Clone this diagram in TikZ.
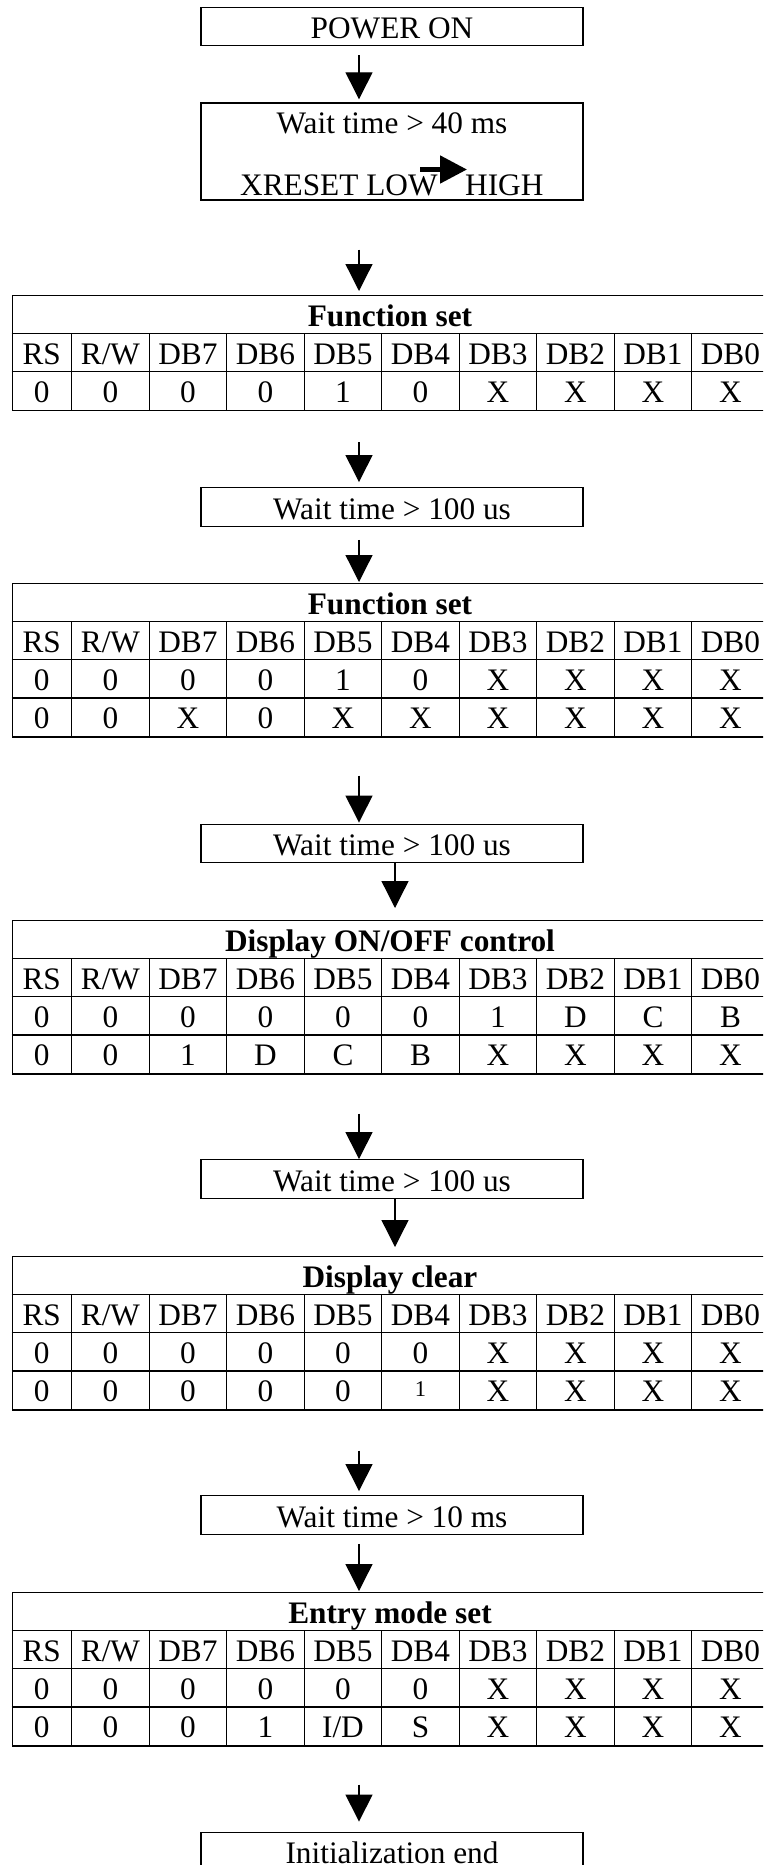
\documentclass[tikz,border=0pt]{standalone}
\usepackage{fontspec}
\setmainfont{Liberation Serif}
\usetikzlibrary{arrows.meta}

\newcommand{\smallone}{\raisebox{5.5pt}{\fontsize{22.5}{26}\selectfont 1}}

% register table: name, top, title, number of data rows, data rows
\newcommand{\bittable}[5]{%
  \pgfmathsetmacro{\tabh}{(2+#4)*38.3}
  \pgfmathtruncatemacro{\tabrows}{#4+1}
  \node[regtab, minimum height=\tabh pt] (#1) at (11.7,#2) {};
  \node[tabtitle] (#1-t) at (390,#2+31) {#3};
  \foreach \k in {1,...,\tabrows}
    \draw[gridline] (11.7,{#2+38.3*\k}) -- (768.7,{#2+38.3*\k});
  \foreach \k in {1,...,9}
    \draw[gridline] ({71.7+77.5*(\k-1)},{#2+38.3}) -- ({71.7+77.5*(\k-1)},{#2+\tabh});
  \foreach \h [count=\j] in {RS,R/W,DB7,DB6,DB5,DB4,DB3,DB2,DB1,DB0} {
    \pgfmathsetmacro{\cx}{\j==1 ? 41.7 : 71.7+77.5*(\j-1.5)}
    \node[cell] (#1-h-\j) at (\cx,#2+38.3+31) {\h};
  }
  \foreach \row [count=\i] in {#5} {
    \foreach \v [count=\j] in \row {
      \pgfmathsetmacro{\cx}{\j==1 ? 41.7 : 71.7+77.5*(\j-1.5)}
      \node[cell] (#1-\i-\j) at (\cx,{#2+38.3*(\i+1)+31}) {\v};
    }
  }%
}

\begin{document}
\begin{tikzpicture}[x=1pt, y=-1pt,
    every node/.style={font=\fontsize{31.3}{36}\selectfont, inner sep=0pt},
    stepbox/.style={draw, line width=1.4pt, minimum width=382pt, minimum height=38.5pt, text height=24pt, text depth=0pt},
    regtab/.style={draw, line width=1.4pt, minimum width=757pt, anchor=north west},
    gridline/.style={line width=1.4pt},
    tabtitle/.style={anchor=base, font=\fontsize{31.3}{36}\selectfont\bfseries},
    cell/.style={anchor=base},
    flowarrow/.style={line width=1.3pt, -{Triangle[length=27pt, width=27pt]}}]

  \useasboundingbox (0,0) rectangle (763,1865);
  \clip (0,0) rectangle (763,1865);
  \coordinate (ax) at (359,0);
  \coordinate (bx) at (395,0);

  \node[stepbox] (pwr) at (392,26.5) {POWER ON};
  \node[stepbox, minimum height=97pt] (w40) at (392,151.5) {};
  \node[anchor=base] (w40-a) at (392,133) {Wait time > 40 ms};
  \node[anchor=base west] (w40-b) at (240,195) {XRESET LOW};
  \node[anchor=base west] (w40-c) at (465,195) {HIGH};
  \coordinate (lh-s) at (420,169.5);
  \coordinate (lh-e) at (467,169.5);
  \draw[line width=5pt, -{Triangle[length=27pt, width=27pt]}] (lh-s) -- (lh-e);

  \bittable{fset1}{295}{Function set}{1}{{0,0,0,0,1,0,X,X,X,X}}
  \node[stepbox] (w100a) at (392,507) {Wait time > 100 us};
  \bittable{fset2}{583}{Function set}{2}{{0,0,0,0,1,0,X,X,X,X},{0,0,X,0,X,X,X,X,X,X}}
  \node[stepbox] (w100b) at (392,843.5) {Wait time > 100 us};
  \bittable{disp}{920}{Display ON/OFF control}{2}{{0,0,0,0,0,0,1,D,C,B},{0,0,1,D,C,B,X,X,X,X}}
  \node[stepbox] (w100c) at (392,1179) {Wait time > 100 us};
  \bittable{clr}{1256}{Display clear}{2}{{0,0,0,0,0,0,X,X,X,X},{0,0,0,0,0,\smallone,X,X,X,X}}
  \node[stepbox] (w10) at (392,1515) {Wait time > 10 ms};
  \bittable{entry}{1592}{Entry mode set}{2}{{0,0,0,0,0,0,X,X,X,X},{0,0,0,1,I/D,S,X,X,X,X}}
  \node[stepbox] (fin) at (392,1851.5) {Initialization end};

  \draw[flowarrow, shorten <=9pt, shorten >=3pt] (pwr.south -| ax) -- (w40.north -| ax);
  \draw[flowarrow, shorten <=49pt, shorten >=4pt] (w40.south -| ax) -- (fset1.north -| ax);
  \draw[flowarrow, shorten <=31pt, shorten >=5pt] (fset1.south -| ax) -- (w100a.north -| ax);
  \draw[flowarrow, shorten <=13pt, shorten >=1pt] (w100a.south -| ax) -- (fset2.north -| ax);
  \draw[flowarrow, shorten <=38pt, shorten >=1pt] (fset2.south -| ax) -- (w100b.north -| ax);
  \draw[flowarrow, shorten >=12pt] (w100b.south -| bx) -- (disp.north -| bx);
  \draw[flowarrow, shorten <=39pt] (disp.south -| ax) -- (w100c.north -| ax);
  \draw[flowarrow, shorten >=9pt] (w100c.south -| bx) -- (clr.north -| bx);
  \draw[flowarrow, shorten <=40pt, shorten >=4pt] (clr.south -| ax) -- (w10.north -| ax);
  \draw[flowarrow, shorten <=9pt, shorten >=1pt] (w10.south -| ax) -- (entry.north -| ax);
  \draw[flowarrow, shorten <=38pt, shorten >=10pt] (entry.south -| ax) -- (fin.north -| ax);
\end{tikzpicture}
\end{document}
